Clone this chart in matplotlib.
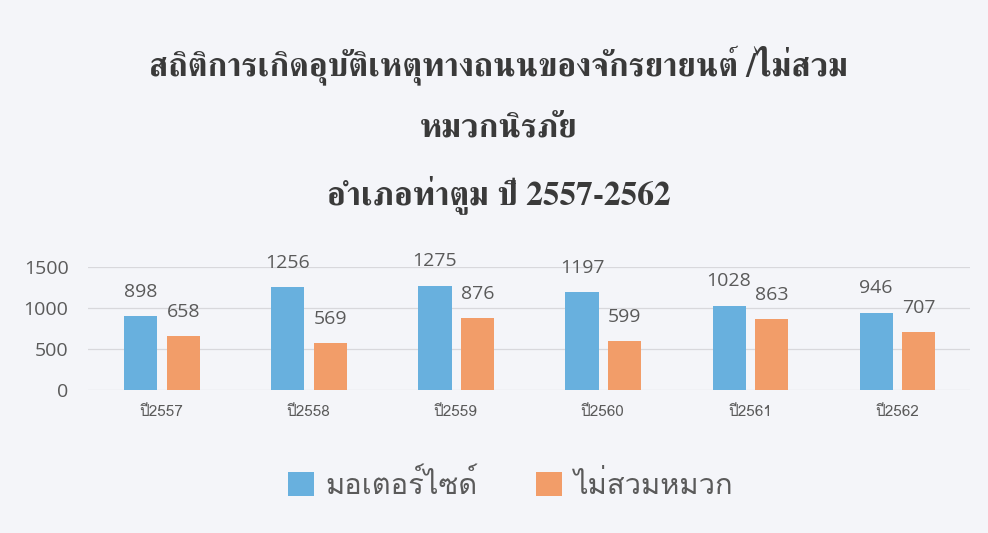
import matplotlib
matplotlib.use("Agg")

import matplotlib.pyplot as plt
import numpy as np
from matplotlib import font_manager
from matplotlib.ft2font import FT2Font

years = ["ปี2557", "ปี2558", "ปี2559", "ปี2560", "ปี2561", "ปี2562"]
motorcycle = [898, 1256, 1275, 1197, 1028, 946]
no_helmet = [658, 569, 876, 599, 863, 707]
series_names = ["มอเตอร์ไซด์", "ไม่สวมหมวก"]
title_lines = [
    "สถิติการเกิดอุบัติเหตุทางถนนของจักรยายนต์ /ไม่สวม",
    "หมวกนิรภัย",
    "อำเภอท่าตูม ปี 2557-2562",
]

# find a font that has Thai glyphs
thai = []
for f in font_manager.fontManager.ttflist:
    try:
        if 0x0E01 in FT2Font(f.fname).get_charmap() and f.name not in thai:
            thai.append(f.name)
    except Exception:
        pass
serif_thai = [n for n in thai if "Serif" in n] + thai
plt.rcParams["font.family"] = thai + ["DejaVu Sans"]

bg = "#f4f5f9"
blue = "#68b0de"
orange = "#f29d69"
grey = "#5a5a5a"

fig = plt.figure(figsize=(9.88, 5.33), dpi=100, facecolor=bg)
ax = fig.add_axes([0.089, 0.268, 0.893, 0.231], facecolor=bg)

x = np.arange(len(years))
w = 0.225
b1 = ax.bar(x - 0.14, motorcycle, w, color=blue, label=series_names[0])
b2 = ax.bar(x + 0.148, no_helmet, w, color=orange, label=series_names[1])

for bars, vals in ((b1, motorcycle), (b2, no_helmet)):
    for r, v in zip(bars, vals):
        ax.annotate(str(v), (r.get_x() + r.get_width() / 2, v),
                    xytext=(0, 11), textcoords="offset points",
                    ha="center", va="bottom", fontsize=14, color=grey,
                    family=["Open Sans", "DejaVu Sans"], annotation_clip=False)

ax.set_xlim(-0.5, len(years) - 0.5)
ax.set_ylim(0, 1500)
ax.set_yticks([0, 500, 1000, 1500])
ax.set_xticks(x)
ax.set_xticklabels(years, fontsize=11, color=grey)
for t in ax.get_yticklabels():
    t.set_fontsize(14)
    t.set_color(grey)
    t.set_family(["Open Sans", "DejaVu Sans"])
ax.tick_params(length=0)
ax.tick_params(axis="x", pad=11)
ax.tick_params(axis="y", pad=14)
ax.grid(axis="y", color="#d8d8dc", linewidth=0.9)
ax.set_axisbelow(True)
for s in ax.spines.values():
    s.set_visible(False)

ys = [0.878, 0.757, 0.635]
for line, yy in zip(title_lines, ys):
    fig.text(0.505, yy, line, ha="center", va="center", fontsize=24,
             fontweight="bold", color="#3a3a3a",
             family=serif_thai + ["DejaVu Serif"])

leg = fig.legend(handles=[b1, b2], loc="center", bbox_to_anchor=(0.517, 0.09),
                 ncol=2, frameon=False, fontsize=21, handlelength=0.9,
                 handleheight=0.9, handletextpad=0.4, columnspacing=2.0)
for t in leg.get_texts():
    t.set_color(grey)

fig.savefig("out.png", dpi=100, facecolor=bg)
